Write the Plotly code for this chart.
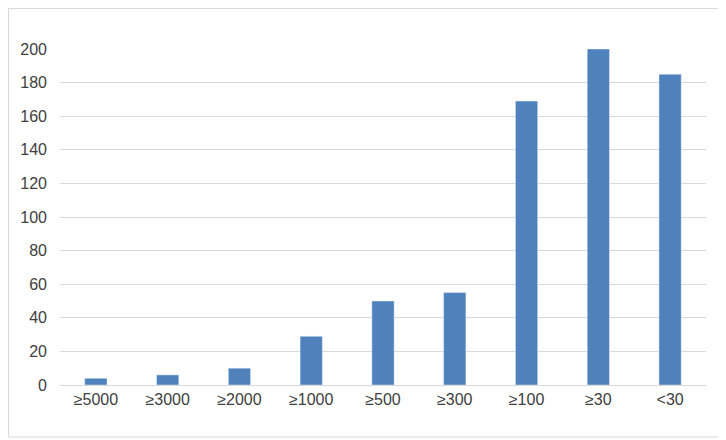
import plotly.graph_objects as go

categories = ["≥5000", "≥3000", "≥2000", "≥1000", "≥500", "≥300", "≥100", "≥30", "<30"]
values = [4, 6, 10, 29, 50, 55, 169, 200, 185]
tick_vals = [0, 20, 40, 60, 80, 100, 120, 140, 160, 180, 200]

W, H = 726, 440
OFF = 8  # page body margin shift
L, R, T, B = 60 - OFF, 20 + OFF, 49 - OFF, 55 + OFF
pw, ph = W - L - R, H - T - B

fig = go.Figure(go.Bar(x=categories, y=values, marker_color="#4F81BD", width=0.31))
fig.update_layout(
    width=W, height=H,
    margin=dict(l=L, r=R, t=T, b=B),
    paper_bgcolor="white", plot_bgcolor="white",
    font=dict(family="Liberation Sans, Arial", size=16, color="#404040"),
    showlegend=False,
    xaxis=dict(showline=True, linecolor="#D9D9D9", ticks="", tickfont=dict(size=16)),
    yaxis=dict(range=[0, 200], tickvals=tick_vals, gridcolor="#D9D9D9",
               zeroline=False, showline=False, ticks="",
               ticklabelstandoff=12),
    shapes=[dict(type="rect", xref="paper", yref="paper",
                 x0=(0.5 - L) / pw, x1=(715 - L) / pw,
                 y0=(H - B - 429) / ph, y1=(H - B - 0.5) / ph,
                 line=dict(color="#D9D9D9", width=1))],
)
fig.write_html("out.html")
